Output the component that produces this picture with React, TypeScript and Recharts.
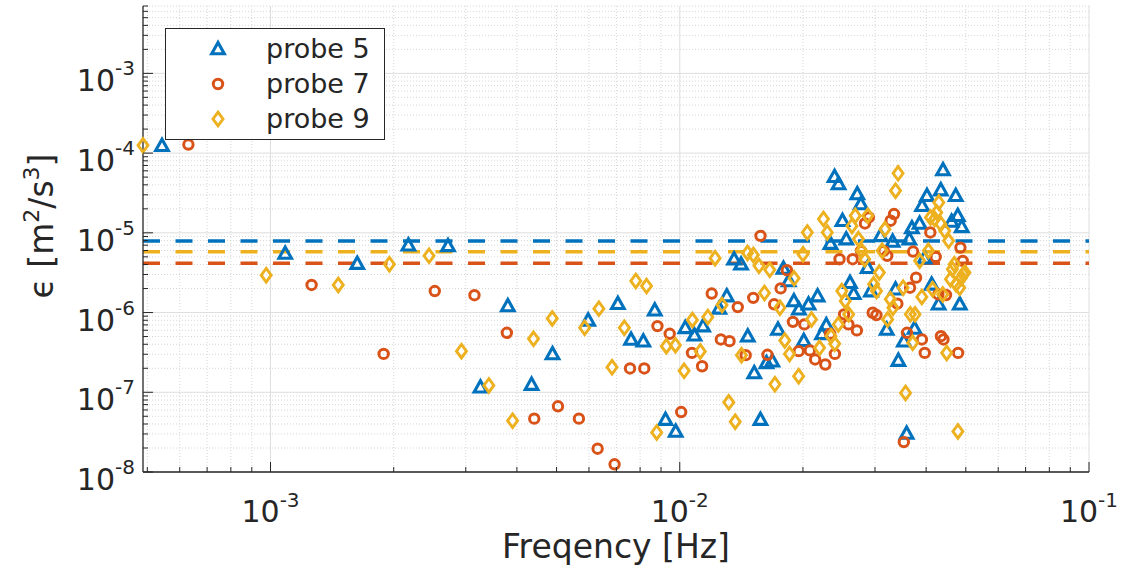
import { CartesianGrid, Label, ReferenceLine, Scatter, ScatterChart, XAxis, YAxis } from "recharts";

// probe 5 (blue triangles)
const probe5Freq = [
  0.000543, 0.001086, 0.001629, 0.002172, 0.002715, 0.003258, 0.003801, 0.004344, 0.004887, 0.005973,
  0.007059, 0.007602, 0.008145, 0.008688, 0.009231, 0.009774, 0.010317, 0.01086, 0.011403, 0.012489,
  0.013032, 0.013575, 0.014118, 0.014661, 0.015204, 0.015747, 0.01629, 0.016833, 0.017376, 0.017919,
  0.018462, 0.019005, 0.019548, 0.020091, 0.020634, 0.02172, 0.022263, 0.022806, 0.023349, 0.023892,
  0.024435, 0.024978, 0.025521, 0.026064, 0.026607, 0.02715, 0.027693, 0.028779, 0.029322, 0.030951,
  0.032037, 0.033123, 0.033666, 0.034209, 0.035295, 0.035838, 0.036381, 0.036924, 0.037467, 0.038553,
  0.039096, 0.039639, 0.040182, 0.041268, 0.042897, 0.04344, 0.043983, 0.046155, 0.047241, 0.047784,
  0.048327, 0.04887,
];
const probe5Eps = [
  1.24e-4, 5.5e-6, 4.11e-6, 7.0e-6, 6.86e-6, 1.16e-7, 1.21e-6, 1.25e-7, 3.03e-7, 8.0e-7,
  1.29e-6, 4.6e-7, 4.38e-7, 1.07e-6, 4.54e-8, 3.23e-8, 6.44e-7, 5.21e-7, 6.76e-7, 1.13e-6,
  1.61e-6, 4.67e-6, 4.04e-6, 5.06e-7, 1.75e-7, 4.54e-8, 2.34e-7, 2.45e-7, 6.15e-7, 3.57e-6,
  2.49e-6, 1.4e-6, 1.1e-6, 4.44e-7, 1.27e-6, 1.61e-6, 5.41e-7, 6.97e-7, 7.33e-6, 5.06e-5,
  4.1e-5, 1.42e-5, 8.34e-6, 2.37e-6, 1.72e-6, 3.07e-5, 2.3e-5, 3.66e-6, 1.86e-6, 9.17e-6,
  6.15e-7, 7.78e-6, 1.96e-6, 2.5e-7, 4.38e-7, 3.05e-8, 8.34e-6, 1.15e-5, 6.32e-7, 1.31e-5,
  2.19e-5, 4.81e-6, 2.92e-5, 2.26e-6, 1.27e-6, 3.44e-5, 6.15e-5, 1.39e-5, 2.92e-5, 1.64e-5,
  1.27e-6, 1.19e-5,
];

// probe 7 (red circles)
const probe7Freq = [
  0.00063, 0.00126, 0.00189, 0.00252, 0.00315, 0.00378, 0.00441, 0.00504, 0.00567, 0.0063,
  0.00693, 0.00756, 0.00819, 0.00882, 0.00945, 0.01008, 0.01071, 0.01134, 0.01197, 0.0126,
  0.01323, 0.01386, 0.01449, 0.01512, 0.01575, 0.01638, 0.01701, 0.01764, 0.01827, 0.0189,
  0.01953, 0.02016, 0.02079, 0.02142, 0.02268, 0.02331, 0.02394, 0.02457, 0.0252, 0.02583,
  0.02646, 0.02709, 0.02772, 0.02835, 0.02898, 0.02961, 0.03024, 0.0315, 0.03213, 0.03276,
  0.03339, 0.03402, 0.03528, 0.03591, 0.03654, 0.03717, 0.0378, 0.03906, 0.03969, 0.04095,
  0.04221, 0.04284, 0.04347, 0.0441, 0.04473, 0.04788, 0.04851, 0.04914,
];
const probe7Eps = [
  1.28e-4, 2.22e-6, 3.03e-7, 1.86e-6, 1.65e-6, 5.57e-7, 4.67e-8, 6.67e-8, 4.67e-8, 1.96e-8,
  1.25e-8, 1.99e-7, 1.99e-7, 6.76e-7, 5.41e-7, 5.65e-8, 3.12e-7, 2.12e-7, 1.73e-6, 4.6e-7,
  4.38e-7, 1.17e-6, 2.92e-7, 1.53e-6, 9.17e-6, 2.95e-7, 1.27e-6, 2.01e-6, 3.4e-6, 7.65e-7,
  3.28e-7, 7.1e-7, 3.35e-7, 2.58e-7, 2.23e-7, 5.41e-7, 3.03e-7, 4.67e-6, 9.49e-7, 7.1e-7,
  4.67e-6, 5.97e-7, 5.94e-6, 1.31e-5, 1.56e-5, 9.94e-7, 9.31e-7, 5.94e-6, 5.14e-6, 1.42e-5,
  1.72e-5, 1.29e-6, 2.37e-8, 5.57e-7, 2.05e-6, 5.82e-6, 2.74e-6, 4.6e-7, 3.12e-7, 1.01e-5,
  4.99e-6, 1.69e-6, 5.06e-7, 4.6e-7, 1.66e-6, 3.12e-7, 6.53e-6, 4.45e-6,
];

// probe 9 (yellow diamonds)
const probe9Freq = [
  0.000488, 0.000976, 0.001464, 0.001952, 0.00244, 0.002928, 0.003416, 0.003904, 0.004392, 0.00488,
  0.005856, 0.006344, 0.006832, 0.00732, 0.007808, 0.008296, 0.008784, 0.009272, 0.00976, 0.010248,
  0.010736, 0.011224, 0.011712, 0.0122, 0.012688, 0.013176, 0.013664, 0.014152, 0.01464, 0.015128,
  0.015616, 0.016104, 0.016592, 0.01708, 0.017568, 0.018056, 0.018544, 0.019032, 0.01952, 0.020008,
  0.020496, 0.020984, 0.02196, 0.022448, 0.022936, 0.023424, 0.023912, 0.0244, 0.024888, 0.025376,
  0.025864, 0.026352, 0.02684, 0.027328, 0.027816, 0.028304, 0.028792, 0.029768, 0.030256, 0.030744,
  0.031232, 0.03172, 0.032208, 0.032696, 0.033184, 0.033672, 0.03416, 0.035136, 0.035624, 0.0366,
  0.037088, 0.037576, 0.038552, 0.03904, 0.040504, 0.040992, 0.04148, 0.041968, 0.042456, 0.042944,
  0.043432, 0.04392, 0.044408, 0.044896, 0.045384, 0.045872, 0.04636, 0.046848, 0.047336, 0.047824,
  0.048312, 0.0488, 0.049288, 0.049776,
];
const probe9Eps = [
  1.25e-4, 2.94e-6, 2.22e-6, 4.04e-6, 5.14e-6, 3.28e-7, 1.22e-7, 4.4e-8, 4.68e-7, 8.45e-7,
  6.44e-7, 1.12e-6, 2.06e-7, 6.44e-7, 2.49e-6, 2.15e-6, 3.14e-8, 3.79e-7, 3.9e-7, 1.86e-7,
  8.09e-7, 3.25e-7, 8.78e-7, 4.81e-6, 1.24e-6, 7.48e-8, 4.28e-8, 2.92e-7, 5.6e-6, 5.28e-6,
  3.85e-6, 1.76e-6, 3.44e-6, 1.26e-7, 1.15e-6, 4.47e-7, 3.03e-7, 2.69e-6, 1.59e-7, 5.4e-6,
  1.01e-5, 8.2e-7, 3.61e-7, 1.49e-5, 1.01e-5, 5.06e-7, 4.05e-7, 7.1e-7, 1.86e-6, 1.4e-6,
  9.49e-7, 1.22e-5, 1.64e-5, 8.34e-6, 5.94e-6, 4.67e-6, 1.64e-5, 2.26e-6, 1.86e-6, 3.17e-6,
  5.94e-6, 1.11e-5, 8.2e-7, 1.47e-6, 1.15e-6, 3.38e-5, 5.57e-5, 2.05e-6, 9.8e-8, 9.49e-7,
  4.17e-7, 9.49e-7, 4.45e-6, 1.57e-6, 5.94e-6, 1.56e-5, 1.96e-6, 1.49e-5, 1.8e-5, 2.4e-5,
  1.29e-5, 1.69e-6, 1.06e-5, 3.12e-7, 7.93e-6, 2.62e-6, 3.49e-6, 4.04e-6, 2.26e-6, 3.23e-8,
  2.05e-6, 2.74e-6, 3.03e-6, 3.17e-6,
];

// mean levels (dashed lines)
const meanProbe5 = 7.9e-6;
const meanProbe9 = 5.77e-6;
const meanProbe7 = 4.16e-6;

// axes
const xDomain = [0.000488, 0.1];
const yDomain = [1e-8, 7e-3];
const xMajor = [1e-3, 1e-2, 1e-1];
const xMinor = [
  5e-4, 6e-4, 7e-4, 8e-4, 9e-4,
  2e-3, 3e-3, 4e-3, 5e-3, 6e-3, 7e-3, 8e-3, 9e-3,
  2e-2, 3e-2, 4e-2, 5e-2, 6e-2, 7e-2, 8e-2, 9e-2,
];
const yMajor = [1e-8, 1e-7, 1e-6, 1e-5, 1e-4, 1e-3];
const yMinor = [
  2e-8, 3e-8, 4e-8, 5e-8, 6e-8, 7e-8, 8e-8, 9e-8,
  2e-7, 3e-7, 4e-7, 5e-7, 6e-7, 7e-7, 8e-7, 9e-7,
  2e-6, 3e-6, 4e-6, 5e-6, 6e-6, 7e-6, 8e-6, 9e-6,
  2e-5, 3e-5, 4e-5, 5e-5, 6e-5, 7e-5, 8e-5, 9e-5,
  2e-4, 3e-4, 4e-4, 5e-4, 6e-4, 7e-4, 8e-4, 9e-4,
  2e-3, 3e-3, 4e-3, 5e-3, 6e-3, 7e-3,
];

const BLUE = "#0072BD";
const RED = "#D95319";
const YELLOW = "#EDB120";
const INK = "#262626";
const FONT = "'DejaVu Sans', sans-serif";

const probe5 = probe5Freq.map((f, i) => ({ f, e: probe5Eps[i] }));
const probe7 = probe7Freq.map((f, i) => ({ f, e: probe7Eps[i] }));
const probe9 = probe9Freq.map((f, i) => ({ f, e: probe9Eps[i] }));

const isMajor = (v: number) => Math.abs(Math.log10(v) - Math.round(Math.log10(v))) < 1e-6;
const expOf = (v: number) => Math.round(Math.log10(v));

const Triangle = ({ cx, cy }: { cx: number; cy: number }) => (
  <path
    d={`M${cx},${cy - 6.5}L${cx - 6.3},${cy + 4.8}L${cx + 6.3},${cy + 4.8}Z`}
    fill="none"
    stroke={BLUE}
    strokeWidth={3.1}
  />
);
const Circle = ({ cx, cy }: { cx: number; cy: number }) => (
  <circle cx={cx} cy={cy} r={4.7} fill="none" stroke={RED} strokeWidth={3} />
);
const Diamond = ({ cx, cy }: { cx: number; cy: number }) => (
  <path
    d={`M${cx},${cy - 6.8}L${cx + 5},${cy}L${cx},${cy + 6.8}L${cx - 5},${cy}Z`}
    fill="none"
    stroke={YELLOW}
    strokeWidth={2.9}
  />
);

function BottomTick({ x, y, payload }: any) {
  const v = payload.value;
  const major = isMajor(v);
  return (
    <g>
      <line x1={x} x2={x} y1={y} y2={y - (major ? 10 : 5)} stroke={INK} />
      {major && (
        <text x={x} y={y + 50} textAnchor="middle" fill={INK} fontSize={30} fontFamily={FONT}>
          10
          <tspan dy={-15} fontSize={20}>
            {expOf(v)}
          </tspan>
        </text>
      )}
    </g>
  );
}

function LeftTick({ x, y, payload }: any) {
  const v = payload.value;
  const major = isMajor(v);
  return (
    <g>
      <line x1={x} x2={x + (major ? 10 : 5)} y1={y} y2={y} stroke={INK} />
      {major && (
        <text x={x - 8} y={y + 18} textAnchor="end" fill={INK} fontSize={30} fontFamily={FONT}>
          10
          <tspan dy={-16} fontSize={20}>
            {expOf(v)}
          </tspan>
        </text>
      )}
    </g>
  );
}

function TopTick({ x, y, payload }: any) {
  const len = isMajor(payload.value) ? 10 : 5;
  return <line x1={x} x2={x} y1={y} y2={y + len} stroke={INK} />;
}

function RightTick({ x, y, payload }: any) {
  const len = isMajor(payload.value) ? 10 : 5;
  return <line x1={x} x2={x - len} y1={y} y2={y} stroke={INK} />;
}

const legendItems = [
  { name: "probe 5", marker: "tri" },
  { name: "probe 7", marker: "circ" },
  { name: "probe 9", marker: "dia" },
];

function LegendBox() {
  return (
    <div
      style={{
        position: "absolute",
        left: 165,
        top: 28,
        width: 218,
        height: 110,
        border: `1.5px solid ${INK}`,
        background: "#fff",
        fontFamily: FONT,
        fontSize: 27,
        color: INK,
      }}
    >
      {legendItems.map((it, i) => (
        <div
          key={it.name}
          style={{ position: "absolute", left: 0, top: 20 + i * 35 - 18, height: 36, display: "flex", alignItems: "center" }}
        >
          <svg width={100} height={36} style={{ display: "block" }}>
            {it.marker === "tri" && <Triangle cx={52} cy={18} />}
            {it.marker === "circ" && <Circle cx={52} cy={18} />}
            {it.marker === "dia" && <Diamond cx={52} cy={18} />}
          </svg>
          <span style={{ lineHeight: "36px" }}>{it.name}</span>
        </div>
      ))}
    </div>
  );
}

export default function App() {
  return (
    <div style={{ position: "absolute", left: 0, top: 0, width: 1129, height: 578, background: "#fff" }}>
      <ScatterChart width={1129} height={578} margin={{ top: 6, right: 40, bottom: 0, left: 0 }}>
        <CartesianGrid
          horizontalValues={yMinor}
          verticalValues={xMinor}
          stroke="#d6d6d6"
          strokeDasharray="1 2"
        />
        <CartesianGrid horizontalValues={yMajor} verticalValues={xMajor} stroke="#dedede" />
        <XAxis
          dataKey="f"
          type="number"
          scale="log"
          domain={xDomain}
          ticks={[...xMinor, ...xMajor]}
          tick={BottomTick}
          tickSize={0}
          tickMargin={0}
          height={106}
          interval={0}
          axisLine={{ stroke: INK, strokeWidth: 1.3 }}
        >
          <Label
            value="Freqency [Hz]"
            position="insideBottom"
            offset={20}
            style={{ fill: INK, fontSize: 33, fontFamily: FONT }}
          />
        </XAxis>
        <XAxis
          xAxisId="top"
          orientation="top"
          type="number"
          scale="log"
          domain={xDomain}
          ticks={[...xMinor, ...xMajor]}
          tick={TopTick}
          tickSize={0}
          tickMargin={0}
          height={0}
          interval={0}
          axisLine={{ stroke: INK, strokeWidth: 1.3 }}
        />
        <YAxis
          dataKey="e"
          type="number"
          scale="log"
          domain={yDomain}
          ticks={[...yMinor, ...yMajor]}
          tick={LeftTick}
          tickSize={0}
          tickMargin={0}
          width={143}
          interval={0}
          axisLine={{ stroke: INK, strokeWidth: 1.3 }}
        >
          <Label
            content={() => (
              <text
                transform="translate(53,226) rotate(-90)"
                textAnchor="middle"
                fill={INK}
                fontSize={33}
                fontFamily={FONT}
              >
                ϵ [m<tspan dy={-14} fontSize={22}>2</tspan>
                <tspan dy={14}>/s</tspan>
                <tspan dy={-14} fontSize={22}>3</tspan>
                <tspan dy={14}>]</tspan>
              </text>
            )}
          />
        </YAxis>
        <YAxis
          yAxisId="right"
          orientation="right"
          type="number"
          scale="log"
          domain={yDomain}
          ticks={[...yMinor, ...yMajor]}
          tick={RightTick}
          tickSize={0}
          tickMargin={0}
          width={0}
          interval={0}
          axisLine={{ stroke: INK, strokeWidth: 1.3 }}
        />
        <ReferenceLine y={meanProbe5} stroke={BLUE} strokeWidth={3.5} strokeDasharray="17 15.5" />
        <ReferenceLine y={meanProbe9} stroke={YELLOW} strokeWidth={3.5} strokeDasharray="17 15.5" />
        <ReferenceLine y={meanProbe7} stroke={RED} strokeWidth={3.5} strokeDasharray="17 15.5" />
        <Scatter name="probe 5" data={probe5} isAnimationActive={false} shape={(p: any) => <Triangle cx={p.cx} cy={p.cy} />} />
        <Scatter name="probe 7" data={probe7} isAnimationActive={false} shape={(p: any) => <Circle cx={p.cx} cy={p.cy} />} />
        <Scatter name="probe 9" data={probe9} isAnimationActive={false} shape={(p: any) => <Diamond cx={p.cx} cy={p.cy} />} />
      </ScatterChart>
      <LegendBox />
    </div>
  );
}
